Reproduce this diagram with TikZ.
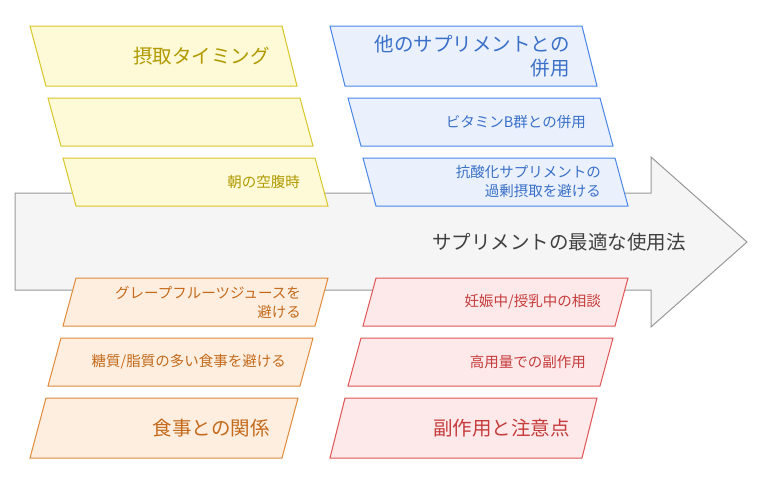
\documentclass[tikz,border=0pt]{standalone}
\usepackage{fontspec}
\setmainfont{Noto Sans CJK JP}
\begin{document}
\begin{tikzpicture}[x=1pt,y=-1pt,
  yel/.style={draw=yelS,fill=yelF,line width=1pt},
  blu/.style={draw=bluS,fill=bluF,line width=1pt},
  ora/.style={draw=oraS,fill=oraF,line width=1pt},
  red/.style={draw=redS,fill=redF,line width=1pt},
  lbl/.style={anchor=east,align=right,inner sep=0pt,font=\fontsize{14.5}{19}\selectfont},
  big/.style={anchor=east,align=right,inner sep=0pt,font=\fontsize{19.5}{24}\selectfont}]
\definecolor{yelS}{HTML}{D9C62B}\definecolor{yelF}{HTML}{FEF9D6}\definecolor{yelT}{HTML}{B09A00}
\definecolor{bluS}{HTML}{4A86E8}\definecolor{bluF}{HTML}{EAF1FD}\definecolor{bluT}{HTML}{3A70C8}
\definecolor{oraS}{HTML}{E08A3A}\definecolor{oraF}{HTML}{FDEEE0}\definecolor{oraT}{HTML}{C46A1A}
\definecolor{redS}{HTML}{E05555}\definecolor{redF}{HTML}{FDE9E9}\definecolor{redT}{HTML}{C63C3C}
\useasboundingbox (0,0) rectangle (761,479);
\fill[white] (0,0) rectangle (761,479);
\draw[draw=gray!80,fill=black!4,line width=1pt] (15,193) -- (651,193) -- (651,157) -- (747,242) -- (651,327) -- (651,290) -- (15,290) -- cycle;
\node[anchor=east,inner sep=0pt,text=black!75,font=\fontsize{19.5}{24}\selectfont] (main) at (686,242) {サプリメントの最適な使用法};
% top left yellow
\draw[yel] (30,26) -- (282,26) -- (297,86) -- (46,86) -- cycle;
\node[big,text=yelT] (y1) at (270,56) {摂取タイミング};
\draw[yel] (48,98) -- (300,98) -- (313,146) -- (61,146) -- cycle;
\draw[yel] (63,158) -- (315,158) -- (328,206) -- (76,206) -- cycle;
\node[lbl,text=yelT] (y3) at (300,182) {朝の空腹時};
% top right blue
\draw[blu] (330,26) -- (582,26) -- (597,86) -- (345,86) -- cycle;
\node[big,text=bluT] (b1) at (570,56) {他のサプリメントとの\\併用};
\draw[blu] (348,98) -- (600,98) -- (613,146) -- (361,146) -- cycle;
\node[lbl,text=bluT] (b2) at (586,122) {ビタミンB群との併用};
\draw[blu] (363,158) -- (615,158) -- (628,206) -- (376,206) -- cycle;
\node[lbl,text=bluT] (b3) at (601,182) {抗酸化サプリメントの\\過剰摂取を避ける};
% bottom left orange
\draw[ora] (76,278) -- (328,278) -- (315,326) -- (63,326) -- cycle;
\node[lbl,text=oraT] (o1) at (301,302) {グレープフルーツジュースを\\避ける};
\draw[ora] (61,338) -- (313,338) -- (300,386) -- (48,386) -- cycle;
\node[lbl,text=oraT] (o2) at (286,362) {糖質/脂質の多い食事を避ける};
\draw[ora] (46,398) -- (298,398) -- (282,458) -- (30,458) -- cycle;
\node[big,text=oraT] (o3) at (270,428) {食事との関係};
% bottom right red
\draw[red] (376,278) -- (628,278) -- (615,326) -- (363,326) -- cycle;
\node[lbl,text=redT] (r1) at (601,302) {妊娠中/授乳中の相談};
\draw[red] (361,338) -- (613,338) -- (600,386) -- (348,386) -- cycle;
\node[lbl,text=redT] (r2) at (586,362) {高用量での副作用};
\draw[red] (345,398) -- (597,398) -- (582,458) -- (330,458) -- cycle;
\node[big,text=redT] (r3) at (570,428) {副作用と注意点};
\end{tikzpicture}
\end{document}
